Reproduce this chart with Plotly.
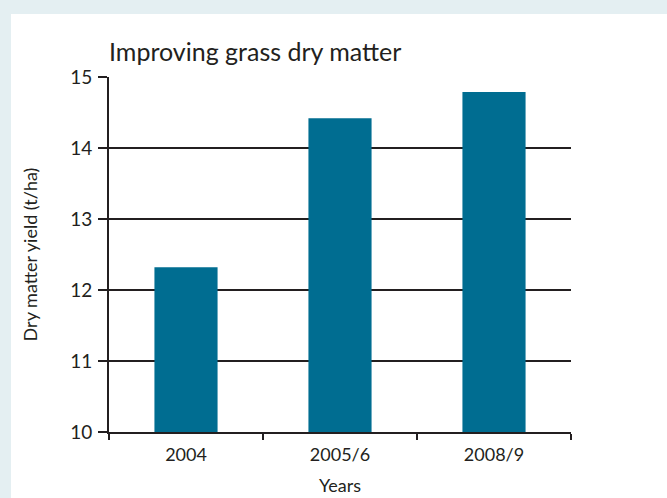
import plotly.graph_objects as go

categories = ["2004", "2005/6", "2008/9"]
yield_values = [12.32, 14.42, 14.79]
y_ticks = [10, 11, 12, 13, 14, 15]

W, H = 667, 498
L, R, T, B = 109, 96, 77, 66
pw, ph = W - L - R, H - T - B

ink = "#231f20"
font_family = "Lato, 'Noto Sans', sans-serif"

fig = go.Figure(go.Bar(x=categories, y=yield_values, marker=dict(color="#006d91", line=dict(width=0))))

fig.update_layout(
    width=W, height=H,
    margin=dict(l=L, r=R, t=T, b=B, autoexpand=False),
    paper_bgcolor="#e4eff2",
    plot_bgcolor="white",
    bargap=0.59,
    showlegend=False,
    font=dict(family=font_family, color=ink, size=18),
    title=dict(text="Improving grass dry matter", x=L / W, xanchor="left",
               y=1 - 52 / H, yanchor="middle", xref="container", yref="container",
               font=dict(size=25, color=ink, family=font_family)),
    shapes=[dict(type="rect", xref="paper", yref="paper", layer="below",
                 x0=(11 - L) / pw, x1=(W - L) / pw + 0.01,
                 y0=-(B + 2) / ph, y1=(H - B - 14) / ph,
                 fillcolor="white", line=dict(width=0))],
)

fig.update_xaxes(
    showline=True, linecolor=ink, linewidth=2,
    ticks="outside", tickson="boundaries", ticklen=6, tickwidth=2, tickcolor=ink,
    showgrid=False, tickfont=dict(size=18), ticklabelstandoff=5,
    title=dict(text="Years", font=dict(size=18), standoff=16),
)
fig.update_yaxes(
    range=[10, 15], tickvals=y_ticks,
    showline=True, linecolor=ink, linewidth=2,
    ticks="outside", ticklen=9, tickwidth=2, tickcolor=ink,
    showgrid=True, gridcolor=ink, gridwidth=2, zeroline=False,
    tickfont=dict(size=19), ticklabelstandoff=2,
    title=dict(text="Dry matter yield (t/ha)", font=dict(size=18), standoff=28),
)

fig.write_html("out.html")
